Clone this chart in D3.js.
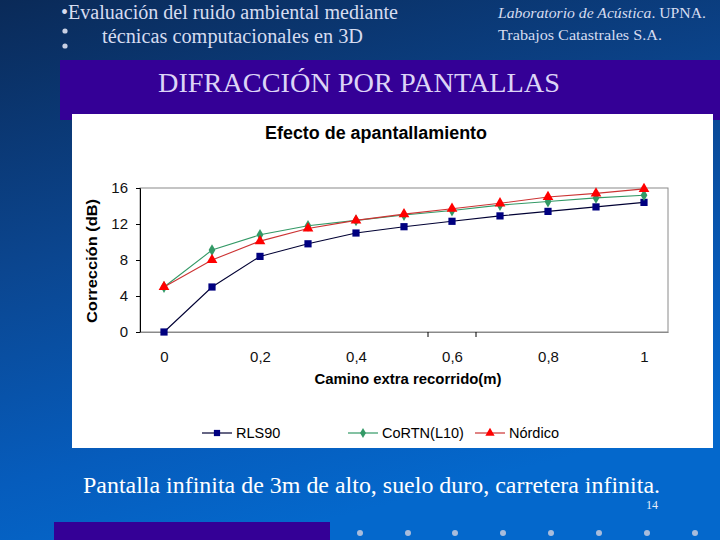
<!DOCTYPE html>
<html><head><meta charset="utf-8">
<script src="https://cdn.jsdelivr.net/npm/d3@7"></script>
<style>html,body{margin:0;padding:0;background:#0b3a78;}svg{display:block;}</style>
</head><body>
<script>
const xValues = [0, 0.1, 0.2, 0.3, 0.4, 0.5, 0.6, 0.7, 0.8, 0.9, 1.0];
const rls90 = [0, 5.0, 8.4, 9.8, 11.0, 11.7, 12.3, 12.9, 13.4, 13.9, 14.4];
const cortn = [5.0, 9.1, 10.8, 11.8, 12.4, 13.0, 13.5, 14.1, 14.5, 14.9, 15.2];
const nordico = [5.0, 8.0, 10.1, 11.5, 12.4, 13.1, 13.7, 14.3, 15.0, 15.4, 15.9];
const seriesNames = ["RLS90", "CoRTN(L10)", "Nórdico"];
const xTickValues = [0, 0.2, 0.4, 0.6, 0.8, 1];
const xTickLabels = ["0", "0,2", "0,4", "0,6", "0,8", "1"];
const yTickValues = [0, 4, 8, 12, 16];

const W = 720, H = 540;
const svg = d3.select("body").append("svg").attr("width", W).attr("height", H);
const defs = svg.append("defs");
const bg = defs.append("linearGradient").attr("id", "bg")
  .attr("x1", "0").attr("y1", "0").attr("x2", "0.35").attr("y2", "1");
bg.append("stop").attr("offset", "0").attr("stop-color", "#0a2a58");
bg.append("stop").attr("offset", "0.45").attr("stop-color", "#0b4690");
bg.append("stop").attr("offset", "0.8").attr("stop-color", "#065cbc");
bg.append("stop").attr("offset", "1").attr("stop-color", "#0468cc");
svg.append("rect").attr("width", W).attr("height", H).attr("fill", "url(#bg)");

const serif = "'Liberation Serif','Times New Roman',serif";
const sans = "'Liberation Sans',Arial,sans-serif";
const lav = "#d6dcf0";

// header
svg.append("text").attr("x", 61).attr("y", 19).attr("font-family", serif).attr("font-size", 20)
  .attr("fill", lav).attr("textLength", 337).attr("lengthAdjust", "spacingAndGlyphs")
  .text("•Evaluación del ruido ambiental mediante");
svg.append("text").attr("x", 102).attr("y", 43).attr("font-family", serif).attr("font-size", 20)
  .attr("fill", lav).attr("textLength", 261).attr("lengthAdjust", "spacingAndGlyphs")
  .text("técnicas computacionales en 3D");
[31, 46].forEach(cy => svg.append("circle").attr("cx", 65).attr("cy", cy).attr("r", 2.6).attr("fill", "#c8d0e4"));
const rh = svg.append("text").attr("x", 498).attr("y", 18).attr("font-family", serif).attr("font-size", 15.5)
  .attr("fill", lav).attr("textLength", 208).attr("lengthAdjust", "spacingAndGlyphs");
rh.append("tspan").attr("font-style", "italic").text("Laboratorio de Acústica");
rh.append("tspan").text(". UPNA.");
svg.append("text").attr("x", 498).attr("y", 40).attr("font-family", serif).attr("font-size", 15.5)
  .attr("fill", lav).attr("textLength", 164).attr("lengthAdjust", "spacingAndGlyphs")
  .text("Trabajos Catastrales S.A.");

// purple band
svg.append("rect").attr("x", 60).attr("y", 60).attr("width", 660).attr("height", 60).attr("fill", "#340096");
svg.append("text").attr("x", 158).attr("y", 92).attr("font-family", serif)
  .attr("font-size", 28).attr("fill", "#dcd4f6").attr("textLength", 402).attr("lengthAdjust", "spacingAndGlyphs")
  .text("DIFRACCIÓN POR PANTALLAS");

// white chart panel
svg.append("rect").attr("x", 72).attr("y", 114).attr("width", 641).attr("height", 334).attr("fill", "#ffffff");

// chart
const x = d3.scaleLinear().domain([-0.05, 1.05]).range([140, 668]);
const y = d3.scaleLinear().domain([0, 16]).range([332, 188]);

svg.append("text").attr("x", 376).attr("y", 139).attr("text-anchor", "middle").attr("font-family", sans)
  .attr("font-weight", "bold").attr("font-size", 17.5).attr("fill", "#000")
  .attr("textLength", 222).attr("lengthAdjust", "spacingAndGlyphs").text("Efecto de apantallamiento");

// plot frame
svg.append("rect").attr("x", x.range()[0]).attr("y", y.range()[1])
  .attr("width", x.range()[1] - x.range()[0]).attr("height", y.range()[0] - y.range()[1])
  .attr("fill", "none").attr("stroke", "#8a8a8a").attr("stroke-width", 1);

// y axis
const yAxis = d3.axisLeft(y).tickValues(yTickValues).tickSize(4).tickPadding(8);
const gy = svg.append("g").attr("transform", `translate(${x.range()[0]},0)`).call(yAxis);
gy.select(".domain").attr("stroke", "#000");
gy.selectAll("line").attr("stroke", "#000");
gy.selectAll("text").attr("font-family", sans).attr("font-size", 15).attr("fill", "#111");

// x axis
const xAxis = d3.axisBottom(x).tickValues(xTickValues).tickSize(0).tickPadding(19)
  .tickFormat((d, i) => xTickLabels[i]);
const gx = svg.append("g").attr("transform", `translate(0,${y.range()[0]})`).call(xAxis);
gx.select(".domain").attr("stroke", "#8a8a8a");
gx.selectAll("text").attr("font-family", sans).attr("font-size", 15).attr("fill", "#111");
// small category tick marks visible on the axis
[0.55, 0.65].forEach(v => svg.append("line").attr("x1", x(v)).attr("x2", x(v))
  .attr("y1", y(0)).attr("y2", y(0) + 5).attr("stroke", "#000"));

svg.append("text").attr("transform", "translate(97,261) rotate(-90)").attr("text-anchor", "middle")
  .attr("font-family", sans).attr("font-weight", "bold").attr("font-size", 15.5).attr("fill", "#000")
  .attr("textLength", 124).attr("lengthAdjust", "spacingAndGlyphs")
  .text("Corrección (dB)");
svg.append("text").attr("x", 408).attr("y", 384).attr("text-anchor", "middle")
  .attr("font-family", sans).attr("font-weight", "bold").attr("font-size", 14.5).attr("fill", "#000")
  .attr("textLength", 187).attr("lengthAdjust", "spacingAndGlyphs")
  .text("Camino extra recorrido(m)");

const series = [
  {name: seriesNames[0], values: rls90, line: "#000033", fill: "#000080", sym: d3.symbolSquare, size: 52},
  {name: seriesNames[1], values: cortn, line: "#339966", fill: "#339966", sym: d3.symbolDiamond, size: 40},
  {name: seriesNames[2], values: nordico, line: "#cc3333", fill: "#ff0000", sym: d3.symbolTriangle, size: 50}
];
const line = d3.line().x((d, i) => x(xValues[i])).y(d => y(d));
series.forEach(s => {
  svg.append("path").datum(s.values).attr("d", line).attr("fill", "none")
    .attr("stroke", s.line).attr("stroke-width", 1.1);
});
series.forEach(s => {
  svg.selectAll(null).data(s.values).enter().append("path")
    .attr("d", d3.symbol().type(s.sym).size(s.size))
    .attr("transform", (d, i) => `translate(${x(xValues[i])},${y(d)})`)
    .attr("fill", s.fill);
});

// legend
const legX = [202, 348, 475];
series.forEach((s, i) => {
  const g = svg.append("g").attr("transform", `translate(${legX[i]},433)`);
  g.append("line").attr("x1", 0).attr("x2", 30).attr("y1", 0).attr("y2", 0).attr("stroke", s.line).attr("stroke-width", 1.2);
  g.append("path").attr("d", d3.symbol().type(s.sym).size(s.size * 0.75)).attr("transform", "translate(15,0)").attr("fill", s.fill);
  g.append("text").attr("x", 34).attr("y", 5).attr("font-family", sans).attr("font-size", 14.5).attr("fill", "#000").text(s.name);
});

// footer
svg.append("text").attr("x", 83).attr("y", 493).attr("font-family", serif)
  .attr("font-size", 23).attr("fill", "#ffffff").attr("textLength", 577).attr("lengthAdjust", "spacingAndGlyphs")
  .text("Pantalla infinita de 3m de alto, suelo duro, carretera infinita.");
svg.append("text").attr("x", 658).attr("y", 509).attr("text-anchor", "end").attr("font-family", serif)
  .attr("font-size", 12).attr("fill", "#e8eef8").text("14");
svg.append("rect").attr("x", 54).attr("y", 522).attr("width", 276).attr("height", 18).attr("fill", "#340096");
[360, 408, 455, 503, 551, 599, 647, 695].forEach(cx =>
  svg.append("circle").attr("cx", cx).attr("cy", 533).attr("r", 3).attr("fill", "#a8bcdc"));
</script>
</body></html>
